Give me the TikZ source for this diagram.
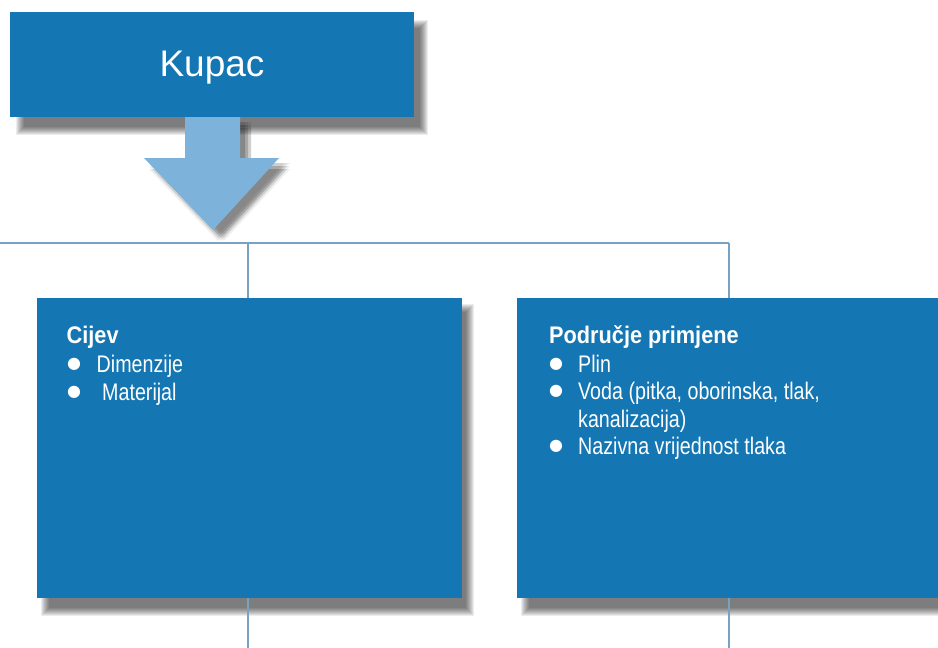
\documentclass[tikz,border=0pt]{standalone}
\usepackage{fontspec}
\setmainfont{Liberation Sans}
\newfontfamily\narrowfont[FakeStretch=0.82]{Liberation Sans}
\newfontfamily\headfont[FakeStretch=0.905]{Liberation Sans}
\newfontfamily\bulletfont{DejaVu Sans}
\definecolor{boxblue}{RGB}{20,118,178}
\definecolor{arrowblue}{RGB}{125,179,218}
\definecolor{linecol}{RGB}{120,162,194}
\newcommand{\softshadow}[4]{%
  \foreach \k in {0,...,8}{%
    \fill[black, opacity=0.075] ({#1-4+\k},{#2-4+\k}) rectangle ({#3+4-\k},{#4+4-\k});
  }}
\begin{document}
\begin{tikzpicture}[x=1pt,y=-1pt,
  bluebox/.style={fill=boxblue, draw=none, inner sep=0pt, anchor=north west},
  conn/.style={draw=linecol, line width=2pt},
  item/.style={anchor=base west, inner sep=0pt, text=white, font=\narrowfont\fontsize{24}{28}\selectfont},
  head/.style={item, font=\headfont\bfseries\fontsize{24}{28}\selectfont},
  bul/.style={anchor=center, inner sep=0pt, text=white, font=\bulletfont\fontsize{16}{16}\selectfont}
]
\useasboundingbox (0,0) rectangle (938,648);
\fill[white] (0,0) rectangle (938,648);

% connectors
\coordinate (busL) at (0,243);
\coordinate (busR) at (729,243);
\coordinate (endL) at (248,648);
\coordinate (endR) at (729,648);

% Kupac shadow and box
\softshadow{20}{24}{424}{131}
\node[bluebox, minimum width=404pt, minimum height=105pt] (kupac) at (10,12) {};
\node[text=white, font=\fontsize{37}{40}\selectfont, anchor=base] (kupactxt) at (212,76) {Kupac};

% arrow with soft shadow
\foreach \dx in {5,8,11}{
  \foreach \dy in {5,8,11}{
    \fill[black, opacity=0.065, shift={(\dx,\dy)}] (185,117) -- (240,117) -- (240,158) -- (279,158) -- (213,230) -- (144,158) -- (185,158) -- cycle;
  }}
\fill[arrowblue] (185,117) -- (240,117) -- (240,158) -- (279,158) -- (213,230) -- (144,158) -- (185,158) -- cycle;
\coordinate (arrowtip) at (213,230);

\draw[conn] (busL) -- (busR);

% box shadows and boxes
\softshadow{45}{308}{470}{612}
\softshadow{525}{308}{946}{612}
\node[bluebox, minimum width=425pt, minimum height=300pt] (cijev) at (37,298) {};
\node[bluebox, minimum width=421pt, minimum height=300pt] (podrucje) at (517,298) {};

\draw[conn] (cijev.north -| endL) -- (busL -| endL);
\draw[conn] (cijev.south -| endL) -- (endL);
\draw[conn] (podrucje.north -| endR) -- (busR);
\draw[conn] (podrucje.south -| endR) -- (endR);

% left text
\node[head] (c0) at (66.5,343) {Cijev};
\node[bul] (cb1) at (74,364) {●};
\node[item] (c1) at (96.5,372) {Dimenzije};
\node[bul] (cb2) at (74,392) {●};
\node[item] (c2) at (102,400) {Materijal};

% right text
\node[head] (p0) at (549,343) {Područje primjene};
\node[bul] (pb1) at (556,364) {●};
\node[item] (p1) at (578,372) {Plin};
\node[bul] (pb2) at (556,391) {●};
\node[item] (p2) at (578,399) {Voda (pitka, oborinska, tlak,};
\node[item] (p3) at (578,427) {kanalizacija)};
\node[bul] (pb3) at (556,446) {●};
\node[item] (p4) at (578,454) {Nazivna vrijednost tlaka};
\end{tikzpicture}
\end{document}
